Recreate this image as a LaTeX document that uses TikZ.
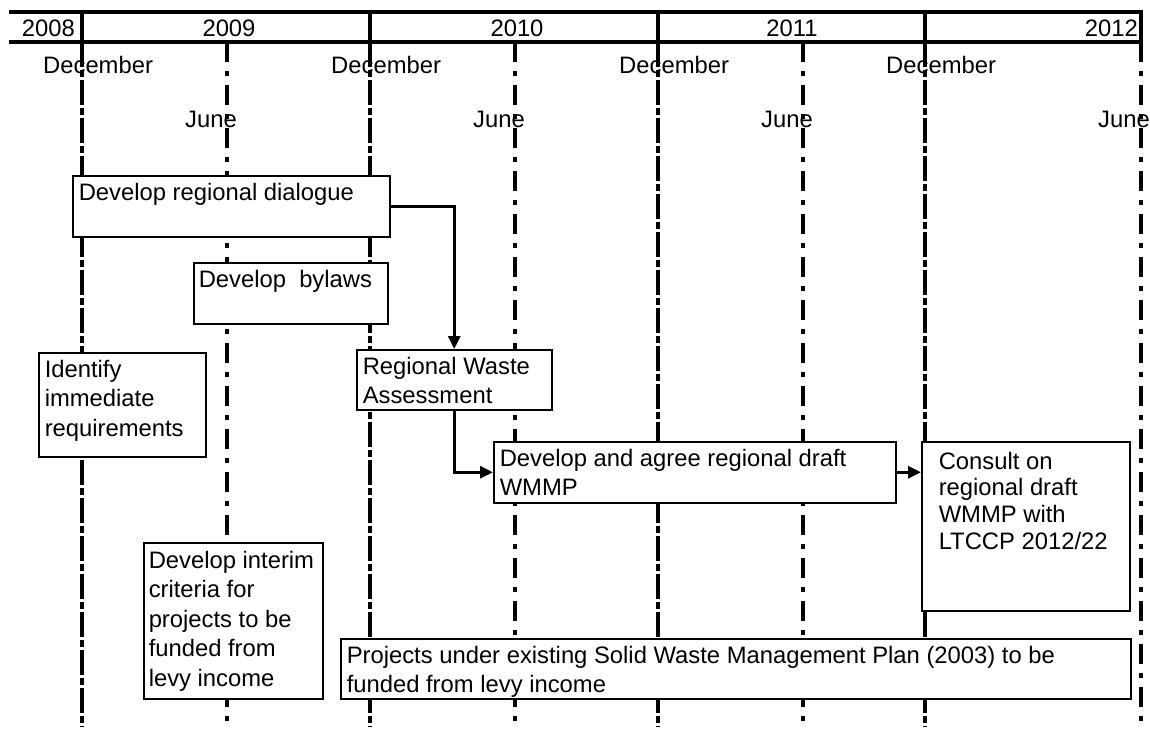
\documentclass[tikz,border=0pt]{standalone}
\usepackage{fontspec}
\setmainfont{Liberation Sans}
\usetikzlibrary{arrows.meta}
\newcommand\bxt[5]{\parbox[t][#2][t]{#1}{\fontsize{23.8pt}{#4}\selectfont\raggedright\leftskip=#3\relax\vspace*{7pt}#5}}
\tikzset{
  box/.style={draw, fill=white, inner sep=0pt, line width=1.5pt, anchor=north west},
  lbl/.style={inner sep=0pt, font=\fontsize{23.8pt}{28pt}\selectfont},
  decline/.style={line width=4.5pt, dash pattern=on 25pt off 3pt on 7pt off 3pt},
  decsolid/.style={line width=4.5pt},
  juneline/.style={line width=3.2pt, dash pattern=on 20pt off 9pt on 5pt off 9pt},
  hdr/.style={line width=3.5pt},
  conn/.style={line width=3pt, -{Triangle[length=13pt,width=12pt]}}
}
\begin{document}
\begin{tikzpicture}[x=1pt,y=-1pt]
\useasboundingbox (0,0) rectangle (1150,729);
% header
\draw[hdr] (9,12) -- (1143,12);
\draw[hdr] (9,42) -- (1143,42);
\node[lbl, anchor=base east] (y2008) at (75,36) {2008};
\node[lbl, anchor=base] (y2009) at (229,36) {2009};
\node[lbl, anchor=base] (y2010) at (517,36) {2010};
\node[lbl, anchor=base] (y2011) at (792,36) {2011};
\node[lbl, anchor=base east] (y2012) at (1138,36) {2012};
% month labels
\node[lbl, anchor=base west] (dec1) at (43,73) {December};
\node[lbl, anchor=base west] (dec2) at (331,73) {December};
\node[lbl, anchor=base west] (dec3) at (619,73) {December};
\node[lbl, anchor=base west] (dec4) at (886,73) {December};
\node[lbl, anchor=base east] (jun1) at (237,127) {June};
\node[lbl, anchor=base east] (jun2) at (525,127) {June};
\node[lbl, anchor=base east] (jun3) at (813,127) {June};
\node[lbl, anchor=base east] (jun4) at (1150,127) {June};
% vertical lines
\foreach \x in {82,370,658,925}{
  \draw[decsolid] (\x,12) -- (\x,42);
  \draw[decline] (\x,42) -- (\x,727);
}
\foreach \x in {227,515,803,1141}{
  \draw[juneline] (\x,42) -- (\x,727);
}
\draw[hdr] (1141,12) -- (1141,42);
% boxes
\node[box] (dlg) at (72,175) {\bxt{317pt}{61pt}{6pt}{29.5pt}{Develop regional dialogue}};
\node[box] (byl) at (193,262) {\bxt{194pt}{61pt}{5pt}{29.5pt}{Develop\ \ bylaws}};
\node[box] (idf) at (38,352) {\bxt{167pt}{104pt}{6pt}{29.7pt}{Identify\\immediate\\requirements}};
\node[box] (rwa) at (356,349) {\bxt{195pt}{60pt}{6pt}{29pt}{Regional Waste\\Assessment}};
\node[box] (daa) at (493,441) {\bxt{402pt}{61pt}{6pt}{29pt}{Develop and agree regional draft\\WMMP}};
\node[box] (con) at (921,441) {\bxt{208pt}{169pt}{17pt}{26.7pt}{\vspace*{3pt}Consult on\\regional draft\\WMMP with\\LTCCP 2012/22}};
\node[box] (int) at (143,542) {\bxt{179pt}{156pt}{5pt}{29.6pt}{\vspace*{1pt}Develop interim\\criteria for\\projects to be\\funded from\\levy income}};
\node[box] (prj) at (340,638) {\bxt{790pt}{60pt}{6pt}{29.5pt}{Projects under existing Solid Waste Management Plan (2003) to be\\funded from levy income}};
% connectors
\draw[conn] (dlg.east) -| (rwa.north);
\draw[conn] (rwa.south) |- (daa.west);
\draw[conn] (daa.east) -- (daa.east -| con.west);
\end{tikzpicture}
\end{document}
